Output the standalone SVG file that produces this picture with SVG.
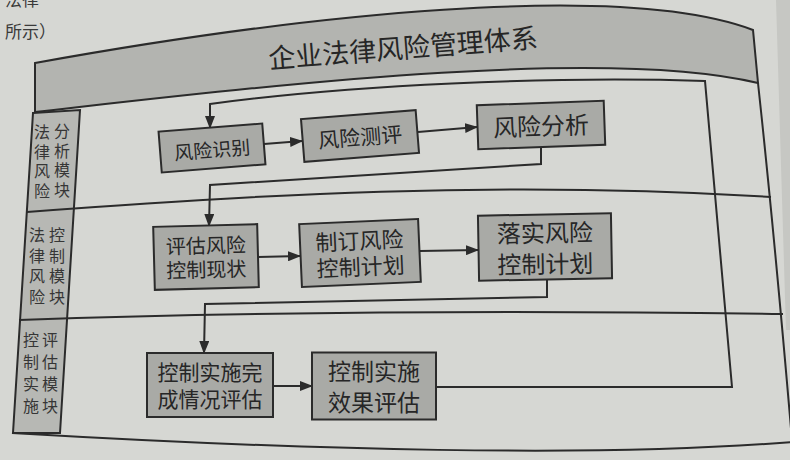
<svg xmlns="http://www.w3.org/2000/svg" width="790" height="460" viewBox="0 0 790 460">
<style>
.ln{fill:none;stroke:#2b2b2b;stroke-width:2}
.box{fill:#a9aaa6;stroke:#2b2b2b;stroke-width:2}
.t{font-family:"Noto Sans CJK SC","Noto Sans CJK JP",sans-serif;fill:#262626;text-anchor:middle}
.pg{font-family:"Noto Sans CJK SC","Noto Sans CJK JP",sans-serif;fill:#3a3a3a;font-size:17px}
.lab{font-family:"Noto Sans CJK SC","Noto Sans CJK JP",sans-serif;fill:#363636;font-size:16px;writing-mode:vertical-rl;text-anchor:start}
.conn{fill:none;stroke:#2b2b2b;stroke-width:2}
.arr{marker-end:url(#ah)}
</style>
<defs>
<marker id="ah" markerWidth="13" markerHeight="10" refX="12" refY="5" orient="auto" markerUnits="userSpaceOnUse">
<path d="M0,0 L13,5 L0,10 Z" fill="#2b2b2b"/>
</marker>
</defs>
<rect x="0" y="0" width="790" height="460" fill="#d6d7d3"/>
<path d="M776,0 L790,0 L790,330 L786,330 Z" fill="#c6c7c3"/>
<text x="5" y="6" class="pg">法律</text>
<text x="5" y="38" class="pg">所示）</text>

<g id="frame">
<path d="M35,63 C300,15 620,-20 753,30 L758,83 C600,45 250,88 35,112 Z" fill="#b3b4b0" stroke="#2b2b2b" stroke-width="2"/>
<path d="M33,113 L80,110 L60,433 L13,433 Z" fill="#b7b8b4" stroke="#2b2b2b" stroke-width="2"/>
<path class="ln" d="M758,83 Q775,240 793,452"/>
<path class="ln" d="M12,433 C300,450 600,458 792,442"/>
<path class="ln" d="M27,212 C250,195 500,180 771,197"/>
<path class="ln" d="M19,320 C250,312 500,310 783,314"/>
<text class="t" font-size="27" transform="translate(403,48) rotate(-4.5)" y="10">企业法律风险管理体系</text>
<text class="lab" x="42" y="124" style="letter-spacing:3.5px">法律风险</text>
<text class="lab" x="62" y="123" style="letter-spacing:3.5px">分析模块</text>
<text class="lab" x="37" y="227" style="letter-spacing:4.5px">法律风险</text>
<text class="lab" x="57" y="227" style="letter-spacing:4.5px">控制模块</text>
<text class="lab" x="31" y="332" style="letter-spacing:6px">控制实施</text>
<text class="lab" x="50" y="332" style="letter-spacing:6px">评估模块</text>
</g>

<g id="connectors">
<path class="conn arr" d="M436,387 L732,387 L705,81 C550,76 350,85 210,104 L210,128"/>
<path class="conn arr" d="M264,144 L302,141"/>
<path class="conn arr" d="M418,132 L477,127"/>
<path class="conn arr" d="M541,147 L541,164 L210,185 L209,226"/>
<path class="conn arr" d="M258,257 L300,256"/>
<path class="conn arr" d="M420,251 L478,250"/>
<path class="conn arr" d="M547,280 L547,297 L205,304 L204,353"/>
<path class="conn arr" d="M273,386 L312,386"/>
</g>

<g id="n1" transform="translate(212,148) rotate(-4.5)">
<rect class="box" x="-52" y="-20.5" width="104" height="41"/>
<text class="t" font-size="19" y="9">风险识别</text>
</g>
<g id="n2" transform="translate(360,136) rotate(-4.5)">
<rect class="box" x="-57.5" y="-21.5" width="115" height="43"/>
<text class="t" font-size="21" y="9">风险测评</text>
</g>
<g id="n3" transform="translate(541,125) rotate(-2)">
<rect class="box" x="-63.5" y="-22" width="127" height="44"/>
<text class="t" font-size="24" y="10">风险分析</text>
</g>
<g id="n4" transform="translate(206,257) rotate(-1.5)">
<rect class="box" x="-52" y="-31.5" width="104" height="63"/>
<text class="t" font-size="20" y="-4">评估风险</text>
<text class="t" font-size="20" y="20">控制现状</text>
</g>
<g id="n5" transform="translate(360,253) rotate(-2.5)">
<rect class="box" x="-59.5" y="-31.5" width="119" height="63"/>
<text class="t" font-size="22" y="-4">制订风险</text>
<text class="t" font-size="22" y="22">控制计划</text>
</g>
<g id="n6" transform="translate(545,247) rotate(-1)">
<rect class="box" x="-66.5" y="-32.5" width="133" height="65"/>
<text class="t" font-size="24" y="-5">落实风险</text>
<text class="t" font-size="24" y="26">控制计划</text>
</g>
<g id="n7" transform="translate(210,385)">
<rect class="box" x="-63" y="-32" width="126" height="64"/>
<text class="t" font-size="21" y="-5">控制实施完</text>
<text class="t" font-size="21" y="22">成情况评估</text>
</g>
<g id="n8" transform="translate(374,386)">
<rect class="box" x="-62" y="-33.5" width="124" height="67"/>
<text class="t" font-size="23" y="-6">控制实施</text>
<text class="t" font-size="23" y="25">效果评估</text>
</g>
</svg>
